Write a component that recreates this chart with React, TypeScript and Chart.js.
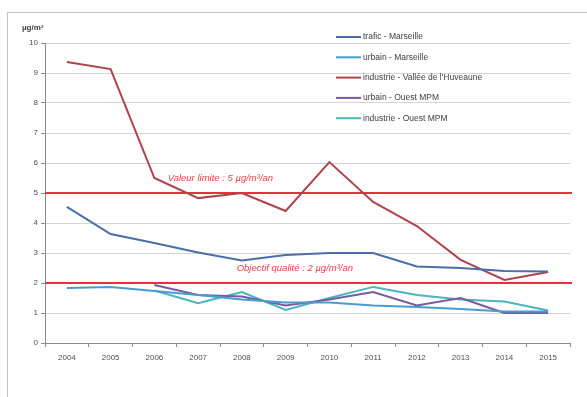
import React, { useEffect, useRef } from "react";
import { Chart, registerables } from "chart.js";

Chart.register(...registerables);

// Annual means (µg/m³)
const years = ["2004", "2005", "2006", "2007", "2008", "2009", "2010", "2011", "2012", "2013", "2014", "2015"];
const traficMarseille = [4.54, 3.63, 3.33, 3.02, 2.75, 2.93, 3.0, 3.0, 2.55, 2.5, 2.4, 2.38];
const urbainMarseille = [1.83, 1.87, 1.73, 1.6, 1.45, 1.35, 1.35, 1.25, 1.2, 1.13, 1.05, 1.05];
const industrieHuveaune = [9.37, 9.13, 5.5, 4.83, 5.0, 4.4, 6.03, 4.7, 3.9, 2.77, 2.1, 2.37];
const urbainOuestMPM = [null, null, 1.93, 1.6, 1.55, 1.25, 1.45, 1.7, 1.25, 1.5, 1.0, 1.0];
const industrieOuestMPM = [null, null, 1.75, 1.33, 1.7, 1.1, 1.5, 1.87, 1.6, 1.45, 1.38, 1.08];

const seriesNames = [
  "trafic - Marseille",
  "urbain - Marseille",
  "industrie - Vallée de l'Huveaune",
  "urbain - Ouest MPM",
  "industrie - Ouest MPM",
];
const seriesColors = ["#4a6ea8", "#4a9cd0", "#b0434a", "#785c9e", "#4bb3c4"];

// Regulatory thresholds
const thresholdValues = [5, 2];
const thresholdLabels = ["Valeur limite : 5 µg/m³/an", "Objectif qualité : 2 µg/m³/an"];
const yTicks = [0, 1, 2, 3, 4, 5, 6, 7, 8, 9, 10];
const unitLabel = "µg/m³";

const FONT = "'Liberation Sans', Arial, sans-serif";

const overlayPlugin = {
  id: "overlay",
  beforeDatasetsDraw(chart: any) {
    const { ctx, chartArea, scales } = chart;
    const y = scales.y;
    ctx.save();
    thresholdValues.forEach((v) => {
      const py = y.getPixelForValue(v);
      ctx.strokeStyle = "#e2323c";
      ctx.lineWidth = 2;
      ctx.beginPath();
      ctx.moveTo(chartArea.left, py);
      ctx.lineTo(chartArea.right + 2, py);
      ctx.stroke();
    });
    ctx.restore();
  },
  afterDatasetsDraw(chart: any) {
    const { ctx, scales } = chart;
    const x = scales.x;
    const y = scales.y;
    ctx.save();
    // threshold captions
    ctx.font = `italic 9.5px ${FONT}`;
    ctx.fillStyle = "#e8404a";
    ctx.textAlign = "center";
    ctx.textBaseline = "middle";
    const capX = [x.getPixelForValue(2) + 66, x.getPixelForValue(4) + 53];
    thresholdValues.forEach((v, i) => {
      ctx.fillText(thresholdLabels[i], capX[i], y.getPixelForValue(v) - 15);
    });
    // unit label above axis
    ctx.font = `bold 8px ${FONT}`;
    ctx.fillStyle = "#404040";
    ctx.textAlign = "left";
    ctx.fillText(unitLabel, 22, 28);
    // legend
    ctx.font = `8.5px ${FONT}`;
    ctx.textAlign = "left";
    chart.data.datasets.forEach((ds: any, i: number) => {
      const ly = 37 + i * 20.3;
      ctx.strokeStyle = ds.borderColor;
      ctx.lineWidth = 2;
      ctx.beginPath();
      ctx.moveTo(336, ly);
      ctx.lineTo(361, ly);
      ctx.stroke();
      ctx.fillStyle = "#404040";
      ctx.fillText(ds.label, 363, ly);
    });
    ctx.restore();
  },
};

export default function App() {
  const ref = useRef<HTMLCanvasElement>(null);
  useEffect(() => {
    const seriesData = [traficMarseille, urbainMarseille, industrieHuveaune, urbainOuestMPM, industrieOuestMPM];
    const chart = new Chart(ref.current!, {
      type: "line",
      data: {
        labels: years,
        datasets: seriesData.map((d, i) => ({
          label: seriesNames[i],
          data: d,
          borderColor: seriesColors[i],
          backgroundColor: seriesColors[i],
          borderWidth: 2,
          pointRadius: 0,
          tension: 0,
          spanGaps: false,
        })),
      },
      options: {
        animation: false,
        responsive: false,
        devicePixelRatio: 1,
        layout: { padding: { left: 0, right: 17, top: 43, bottom: 24 } },
        plugins: { legend: { display: false }, tooltip: { enabled: false } },
        scales: {
          x: {
            offset: true,
            grid: { offset: true, drawOnChartArea: false, drawTicks: true, tickLength: 4, color: "#8c8c8c" },
            border: { color: "#8c8c8c" },
            ticks: { color: "#505050", font: { family: FONT, size: 8 }, padding: 6, maxRotation: 0 },
            afterFit(scale: any) {
              scale.height = 30;
            },
          },
          y: {
            min: 0,
            max: 10,
            afterBuildTicks(scale: any) {
              scale.ticks = yTicks.map((v) => ({ value: v }));
            },
            grid: { color: "#d4d4d4", tickLength: 4, tickColor: "#8c8c8c" },
            border: { color: "#8c8c8c" },
            ticks: { color: "#505050", font: { family: FONT, size: 8 }, padding: 3 },
            afterFit(scale: any) {
              scale.width = 45;
            },
          },
        },
      },
      plugins: [overlayPlugin],
    });
    return () => chart.destroy();
  }, []);

  return (
    <div style={{ position: "fixed", left: 0, top: 0, width: 587, height: 397, background: "#fff", overflow: "hidden" }}>
      <div
        style={{
          position: "absolute",
          left: 7,
          top: 12,
          width: 640,
          height: 420,
          border: "1px solid #c4c4c4",
        }}
      />
      <canvas ref={ref} width={587} height={397} style={{ position: "absolute", left: 0, top: 0 }} />
    </div>
  );
}
